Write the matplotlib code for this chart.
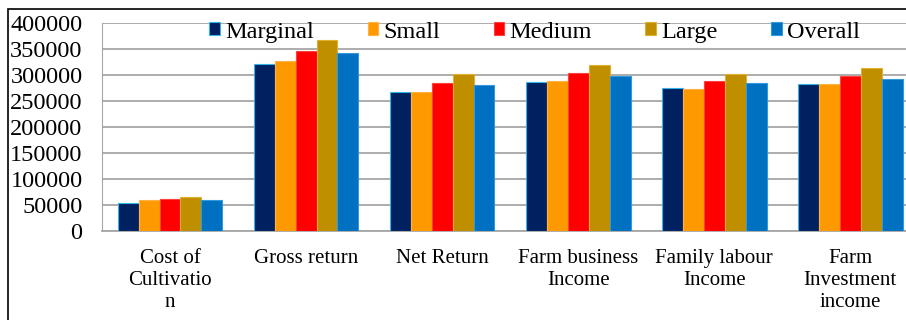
import numpy as np
import matplotlib
matplotlib.use("Agg")
import matplotlib.pyplot as plt
from matplotlib.patches import Rectangle

# --- Data ---
categories = ["Cost of\nCultivatio\nn", "Gross return", "Net Return",
              "Farm business\nIncome", "Family labour\nIncome",
              "Farm\nInvestment\nincome"]
series_names = ["Marginal", "Small", "Medium", "Large", "Overall"]
marginal = [54500, 321000, 266500, 287000, 274500, 281500]
small = [59500, 326000, 267000, 288500, 272500, 282000]
medium = [61500, 345000, 284000, 302500, 288000, 298000]
large = [65500, 366000, 302000, 318000, 302000, 313500]
overall = [59500, 341000, 280000, 298500, 284000, 291500]
y_ticks = np.arange(0, 400001, 50000)

colors = ["#002060", "#FF9900", "#FF0000", "#BF8F00", "#0070C0"]
edges = ["#33B5E5", "#FFB347", "#FF4040", "#E0B030", "#3399DD"]

plt.rcParams['font.family'] = ['Liberation Serif', 'DejaVu Serif']

fig = plt.figure(figsize=(9.06, 3.2), dpi=100)
ax = fig.add_axes([102 / 906, 89 / 320, 804 / 906, 208.3 / 320])

x = np.arange(len(categories))
width = 0.154
all_series = [marginal, small, medium, large, overall]
for i, vals in enumerate(all_series):
    ax.bar(x + (i - 2) * width, vals, width, color=colors[i],
           edgecolor=edges[i], linewidth=0.8, label=series_names[i], zorder=3)

ax.set_xlim(-0.5, 5.41)
ax.set_ylim(0, 400000)
ax.set_yticks(y_ticks)
ax.set_yticklabels([str(v) for v in y_ticks], fontsize=17.5)
ax.set_xticks(x)
ax.set_xticklabels(categories, fontsize=15, linespacing=1.2)
ax.tick_params(axis='both', length=0)
ax.tick_params(axis='y', pad=14)
ax.tick_params(axis='x', pad=13)
ax.yaxis.grid(True, color="#A6A6A6", linewidth=1.3, zorder=0)
for s in ['top', 'right']:
    ax.spines[s].set_visible(False)
ax.spines['left'].set_color("#A6A6A6")
ax.spines['bottom'].set_color("#A6A6A6")
ax.spines['bottom'].set_linewidth(1.3)

ax.legend(loc='center', bbox_to_anchor=(0.538, 0.955), ncol=5, frameon=False,
          fontsize=17.5, handlelength=0.45, handleheight=0.45,
          handletextpad=0.2, columnspacing=2.2, borderaxespad=0)

# outer border of the original figure (cropped on the right and bottom)
fig.patches.append(Rectangle((7.5 / 906, -0.1), 2, (320 - 9) / 320 + 0.1,
                             transform=fig.transFigure, fill=False,
                             edgecolor="black", linewidth=1.2))

fig.savefig("out.png", dpi=100)
